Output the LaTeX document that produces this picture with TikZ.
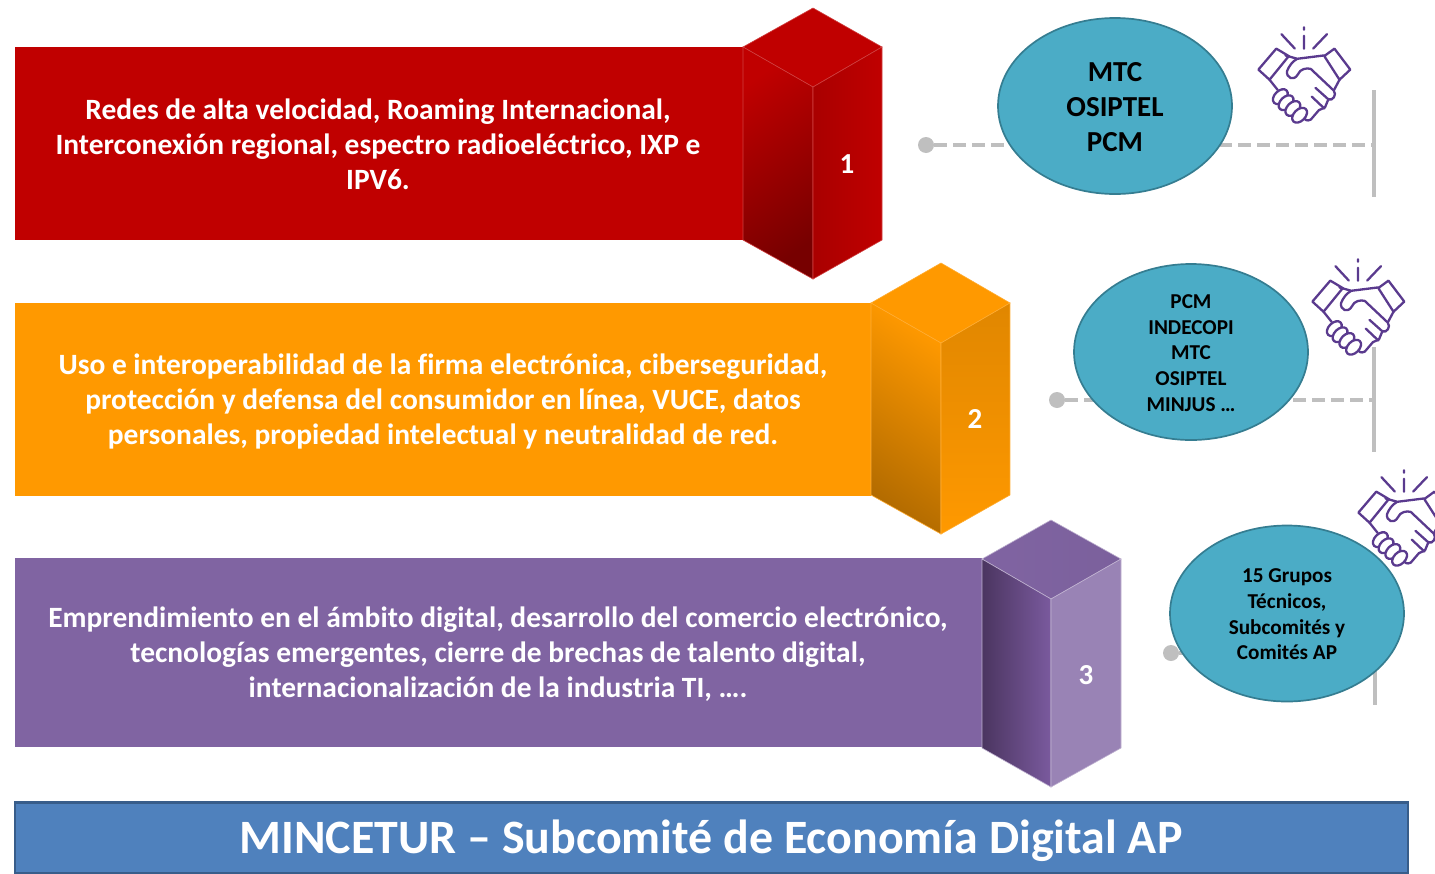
\documentclass[tikz,border=0pt]{standalone}
\usepackage{fontspec}
\usetikzlibrary{shapes.geometric}
\setmainfont{Carlito}[Ligatures={NoCommon}]
\definecolor{redA}{HTML}{C00000}
\definecolor{orangeA}{HTML}{FF9900}
\definecolor{purpleA}{HTML}{8064A2}
\definecolor{purpleD}{HTML}{4B3560}
\definecolor{purpleM}{HTML}{7A5A9E}
\definecolor{purpleT}{HTML}{7B609C}
\definecolor{tealA}{HTML}{4BACC6}
\definecolor{tealB}{HTML}{357D91}
\definecolor{blueA}{HTML}{4F81BD}
\definecolor{blueB}{HTML}{385D8A}
\definecolor{greyA}{HTML}{BFBFBF}
\definecolor{shakeC}{HTML}{5A3A8E}
\tikzset{
  band/.style={fill=#1,draw=none,inner sep=0pt},
  bandtext/.style={inner sep=0pt,text=white,align=center,font=\fontsize{29.45}{35}\bfseries\selectfont},
  num/.style={text=white,inner sep=0pt,font=\fontsize{29}{35}\bfseries\selectfont},
  bubble/.style={ellipse,draw=tealB,line width=1.7pt,fill=tealA,inner sep=0pt,minimum width=234pt,minimum height=176pt},
  bubbletext/.style={inner sep=0pt,align=center,text=black},
  bubbleL/.style={bubbletext,font=\fontsize{29}{35}\bfseries\selectfont},
  bubbleS/.style={bubbletext,font=\fontsize{21.2}{25.6}\bfseries\selectfont},
  dashline/.style={draw=greyA,line width=3.6pt,dash pattern=on 13pt off 6pt},
  barline/.style={draw=greyA,line width=4pt},
  dotnode/.style={circle,fill=greyA,inner sep=0pt,minimum size=16pt},
  edgeline/.style={line width=.6pt},
  handshake/.pic={
    \begin{scope}[shakeC,line width=2.3pt,line join=round,line cap=round,scale=.338]
      \draw (-67,-121)--(-27,-78) (0,-141)--(0,-134) (0,-116)--(0,-78) (68,-121)--(27,-78);
      \draw (-135,-16)--(-82,-78)--(-45,-56)--(-102,14)--cycle;
      \draw (90,-78)--(137,-16)--(105,14)--(60,-56)--cycle;
      \draw (-55,-58)--(-20,-48)--(60,-58);
      \draw (-20,-48) .. controls (-35,-40) and (-45,-25) .. (-50,-12)
            .. controls (-54,8) and (-30,20) .. (-18,-2)
            .. controls (-12,-18) and (8,-22) .. (20,-18)
            -- (88,46) .. controls (98,58) and (85,78) .. (72,72) -- (34,38);
      \draw (23,64)--(60,99);
      \draw (72,72) -- (62,96) -- (44,104) -- (20,132) .. controls (10,138) and (0,132) .. (-4,124);
      \draw (105,14)--(88,46) (-102,14)--(-78,44);
      \foreach \cx/\cy in {-70/64,-53/82,-33/99,-13/119}
        \draw[fill=white] (\cx,\cy) circle[x radius=26,y radius=17,rotate=45];
    \end{scope}}
}
\begin{document}
\begin{tikzpicture}[x=1pt,y=-1pt]
\useasboundingbox (0,0) rectangle (1435,873);
% bands
\node[band=redA,minimum width=728pt,minimum height=193pt] (b1) at (379,143.5) {};
\node[bandtext] (l1) at (378,144.5)
  {Redes de alta velocidad, Roaming Internacional,\\Interconexión regional, espectro radioeléctrico, IXP e\\IPV6.};
\node[band=orangeA,minimum width=856pt,minimum height=193pt] (b2) at (443,399.5) {};
\node[bandtext] (l2) at (443,401.5)
  {Uso e interoperabilidad de la firma electrónica, ciberseguridad,\\protección y defensa del consumidor en línea, VUCE, datos\\personales, propiedad intelectual y neutralidad de red.};
\node[band=purpleA,minimum width=967pt,minimum height=189pt] (b3) at (498.5,652.5) {};
\node[bandtext] (l3) at (498,654.5)
  {Emprendimiento en el ámbito digital, desarrollo del comercio electrónico,\\tecnologías emergentes, cierre de brechas de talento digital,\\internacionalización de la industria TI, ….};
% cuboid 1
\path[fill=redA,draw=redA!75!white,edgeline] (813,8)--(882,47)--(813,87)--(743,47)--cycle;
\path[top color=redA,middle color=redA!92!black,bottom color=redA!62!black,shading angle=35,draw=redA!75!white,edgeline] (743,47)--(813,87)--(813,279)--(743,240)--cycle;
\path[left color=redA!88!black,right color=redA,draw=redA!75!white,edgeline] (813,87)--(882,47)--(882,240)--(813,279)--cycle;
% cuboid 2
\path[fill=orangeA,draw=orangeA!80!white,edgeline] (941,263)--(1010,303)--(941,343)--(871,303)--cycle;
\path[top color=orangeA,middle color=orangeA!92!black,bottom color=orangeA!70!black,shading angle=-35,draw=orangeA!80!white,edgeline] (871,303)--(941,343)--(941,534)--(871,495)--cycle;
\path[top color=orangeA!88!black,bottom color=orangeA,draw=orangeA!80!white,edgeline] (941,343)--(1010,303)--(1010,495)--(941,534)--cycle;
% cuboid 3
\path[left color=purpleA,right color=purpleT,draw=purpleA!50!white,edgeline] (1051,520)--(1121,559)--(1051,599)--(982,559)--cycle;
\path[left color=purpleD,right color=purpleM,draw=purpleA!50!white,edgeline] (982,559)--(1051,599)--(1051,787)--(982,748)--cycle;
\path[fill=purpleA!80!white,draw=purpleA!50!white,edgeline] (1051,599)--(1121,559)--(1121,748)--(1051,787)--cycle;
\node[num] (n1) at (847,164) {1};
\node[num] (n2) at (975,419) {2};
\node[num] (n3) at (1086,675) {3};
% connectors
\node[dotnode] (d1) at (926,145) {};
\node[dotnode] (d2) at (1057,400) {};
\node[dotnode] (d3) at (1171,653) {};
\coordinate (j1) at (1374,145);
\coordinate (j2) at (1374,400);
\coordinate (j3) at (1375,653);
\coordinate (t1) at (1374,90);\coordinate (e1) at (1374,197);
\coordinate (t2) at (1374,347);\coordinate (e2) at (1374,452);
\coordinate (t3) at (1375,600);\coordinate (e3) at (1375,705);
\draw[dashline] (d1)--(j1);
\draw[dashline] (d2)--(j2);
\draw[dashline] (d3)--(j3);
\draw[barline] (t1)--(e1);
\draw[barline] (t2)--(e2);
\draw[barline] (t3)--(e3);
% bubbles
\node[bubble] (o1) at (1115,106) {};
\node[bubbleL] (q1) at (1115,107) {MTC\\OSIPTEL\\PCM};
\node[bubble] (o2) at (1191,352) {};
\node[bubbleS] (q2) at (1191,353) {PCM\\INDECOPI\\MTC\\OSIPTEL\\MINJUS …};
\node[bubble] (o3) at (1287,613.5) {};
\node[bubbleS] (q3) at (1287,614.5) {15 Grupos\\Técnicos,\\Subcomités y\\Comités AP};
% handshakes
\pic at (1304,75) {handshake};
\pic at (1358,307) {handshake};
\pic at (1404,518) {handshake};
% banner
\node[fill=blueA,draw=blueB,line width=1.8pt,inner sep=0pt,minimum width=1393pt,minimum height=70pt] (title) at (711.5,838) {};
\draw[blueB,line width=3pt] (title.north west)--(title.north east);
\node[inner sep=0pt,text=white,font=\fontsize{47.9}{50}\bfseries\selectfont] (titletext) at (711,841) {MINCETUR – Subcomité de Economía Digital AP};
\end{tikzpicture}
\end{document}
